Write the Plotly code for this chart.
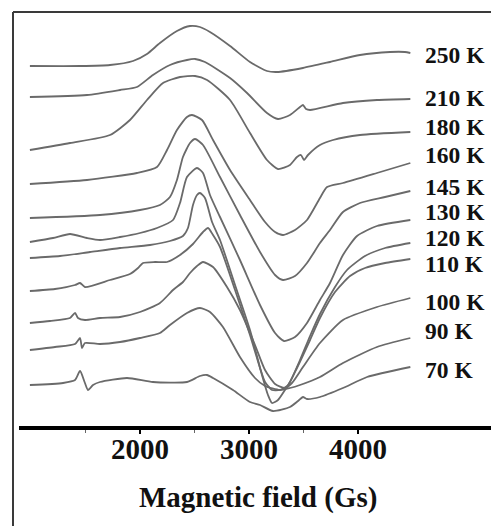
import plotly.graph_objects as go

# ---- data (field in Gs, signal in arbitrary offset units) ----
temperatures = ["250 K", "210 K", "180 K", "160 K", "145 K", "130 K",
                "120 K", "110 K", "100 K", "90 K", "70 K"]

field_250 = [990, 1450, 1725, 1936, 2064, 2183, 2339, 2459, 2550, 2642, 2826, 3009,
             3165, 3257, 3495, 3743, 4018, 4294, 4431, 4480]
sig_250 = [362, 362, 363, 367, 374, 385, 397, 402, 401, 396, 382, 366,
           357, 356, 360, 366, 373, 376, 376, 375]

field_210 = [990, 1514, 1817, 1972, 2119, 2275, 2431, 2505, 2596, 2826, 2982, 3165,
             3266, 3376, 3468, 3495, 3523, 3560, 3862, 4174, 4480]
sig_210 = [331, 333, 338, 341, 353, 363, 368, 369, 366, 350, 335, 315,
           309, 313, 321, 323, 319, 318, 325, 328, 329]

field_180 = [990, 1358, 1725, 1908, 2064, 2211, 2367, 2505, 2615, 2826, 3009, 3165,
             3266, 3376, 3440, 3477, 3505, 3541, 3651, 3771, 4018, 4480]
sig_180 = [278, 285, 293, 308, 328, 345, 351, 352, 348, 328, 295, 268,
           259, 263, 271, 273, 268, 273, 283, 288, 293, 296]

field_160 = [990, 1514, 1972, 2156, 2248, 2339, 2431, 2477, 2569, 2670, 2826, 3009,
             3147, 3239, 3312, 3422, 3532, 3651, 3716, 3862, 4174, 4480]
sig_160 = [244, 248, 255, 261, 278, 298, 311, 313, 308, 288, 258, 228,
           206, 196, 193, 198, 208, 230, 241, 245, 255, 265]

field_145 = [990, 1633, 2000, 2183, 2275, 2339, 2394, 2459, 2505, 2578, 2734, 2917,
             3101, 3239, 3312, 3422, 3532, 3651, 3743, 3862, 4018, 4248, 4480]
sig_145 = [210, 213, 218, 223, 231, 248, 271, 285, 289, 283, 251, 213,
           176, 153, 148, 152, 165, 185, 198, 216, 225, 231, 237]

field_130 = [990, 1202, 1358, 1514, 1633, 1817, 2000, 2156, 2303, 2367, 2431, 2523,
             2578, 2642, 2734, 2917, 3101, 3239, 3321, 3422, 3532, 3651, 3743, 3862,
             3991, 4174, 4480]
sig_130 = [186, 190, 194, 190, 188, 191, 195, 200, 208, 225, 251, 260,
           255, 233, 211, 168, 123, 95, 87, 91, 105, 128, 145, 173,
           192, 202, 208]

field_120 = [990, 1266, 1541, 1817, 2092, 2275, 2394, 2440, 2486, 2523, 2550, 2596,
             2661, 2734, 2872, 3009, 3119, 3174, 3211, 3266, 3330, 3376, 3468, 3560,
             3651, 3789, 3899, 4064, 4248, 4480]
sig_120 = [170, 172, 176, 180, 183, 187, 192, 200, 223, 233, 235, 230,
           206, 188, 143, 98, 53, 33, 25, 28, 38, 46, 68, 92,
           114, 141, 158, 172, 180, 185]

field_110 = [990, 1220, 1404, 1450, 1495, 1725, 1908, 1982, 2028, 2138, 2248, 2367,
             2486, 2578, 2624, 2670, 2734, 2872, 3009, 3101, 3147, 3211, 3284, 3358,
             3440, 3560, 3651, 3789, 3927, 4064, 4248, 4480]
sig_110 = [137, 139, 143, 145, 141, 148, 154, 160, 165, 166, 166, 173,
           184, 196, 200, 193, 181, 138, 93, 60, 46, 38, 38, 43,
           60, 88, 110, 136, 152, 160, 165, 169]

field_100 = [990, 1174, 1358, 1404, 1431, 1495, 1633, 1817, 2000, 2183, 2303, 2394,
             2459, 2523, 2578, 2670, 2798, 2917, 3055, 3147, 3239, 3330, 3394, 3495,
             3651, 3862, 4174, 4480]
sig_100 = [105, 107, 110, 115, 110, 108, 110, 111, 116, 125, 138, 146,
           155, 162, 166, 161, 141, 118, 83, 58, 44, 40, 45, 61,
           85, 108, 121, 130]

field_90 = [990, 1220, 1404, 1450, 1468, 1495, 1633, 1817, 2000, 2183, 2275, 2431,
            2550, 2642, 2761, 2917, 3055, 3147, 3284, 3376, 3468, 3651, 3862, 4174, 4480]
sig_90 = [78, 81, 84, 90, 80, 85, 84, 86, 90, 95, 103, 115,
          120, 116, 101, 71, 50, 42, 38, 40, 43, 51, 65, 81, 90]

field_70 = [990, 1294, 1404, 1450, 1495, 1523, 1569, 1633, 1881, 2119, 2431, 2550,
            2615, 2670, 2853, 3009, 3101, 3220, 3376, 3450, 3495, 3532, 3651, 3862,
            4083, 4480]
sig_70 = [43, 45, 48, 57, 45, 38, 43, 46, 50, 46, 46, 52,
          53, 50, 38, 26, 23, 17, 21, 27, 31, 29, 31, 40,
          51, 61]

tick_values = [2000, 3000, 4000]
tick_labels = ["2000", "3000", "4000"]

series = [
    (field_250, sig_250), (field_210, sig_210), (field_180, sig_180),
    (field_160, sig_160), (field_145, sig_145), (field_130, sig_130),
    (field_120, sig_120), (field_110, sig_110), (field_100, sig_100),
    (field_90, sig_90), (field_70, sig_70),
]

# vertical placement of the temperature labels (layout, in signal units)
label_heights = [373, 330, 301, 273, 241, 216.5, 190, 164, 126, 97, 58]

fig = go.Figure()
for name, (fx, sy) in zip(temperatures, series):
    fig.add_trace(go.Scatter(
        x=fx, y=sy, mode="lines", name=name, showlegend=False, hoverinfo="skip",
        line=dict(color="#6a6a6a", width=1.8, shape="spline", smoothing=0.6),
    ))

label_font = dict(family="Liberation Serif", size=23.5, color="#111111", weight="bold")
annotations = []
for name, ly in zip(temperatures, label_heights):
    annotations.append(dict(
        x=4595, y=ly, xref="x", yref="y", text=name, showarrow=False,
        xanchor="left", yanchor="middle", font=label_font,
    ))
annotations.append(dict(
    x=3080, y=0.056, xref="x", yref="paper", text="Magnetic field (Gs)",
    showarrow=False, xanchor="center", yanchor="middle",
    font=dict(family="Liberation Serif", size=29, color="#111111", weight="bold"),
))

fig.update_layout(
    width=491, height=526,
    margin=dict(l=13, r=0, t=12, b=0),
    paper_bgcolor="white", plot_bgcolor="white",
    xaxis=dict(
        domain=[0.01255, 1], range=[890, 5220], anchor="free", position=0.1907,
        showline=True, linewidth=4, linecolor="black",
        ticks="outside", ticklen=4, tickwidth=2, tickcolor="black",
        tickvals=tick_values, ticktext=tick_labels, ticklabelstandoff=-10,
        tickfont=dict(family="Liberation Serif", size=29, color="#111111", weight="bold"),
        showgrid=False, zeroline=False,
        minor=dict(tickvals=[1500, 2500, 3500], ticks="outside", ticklen=3,
                   tickwidth=1, tickcolor="#666666", showgrid=False),
    ),
    yaxis=dict(range=[-98, 416], visible=False, fixedrange=True),
    shapes=[
        dict(type="line", xref="paper", yref="paper", x0=0, x1=0, y0=0, y1=1,
             line=dict(color="#3a3a3a", width=2)),
        dict(type="line", xref="paper", yref="paper", x0=0, x1=1, y0=1, y1=1,
             line=dict(color="#3a3a3a", width=2)),
    ],
    annotations=annotations,
)

fig.write_html("out.html")
